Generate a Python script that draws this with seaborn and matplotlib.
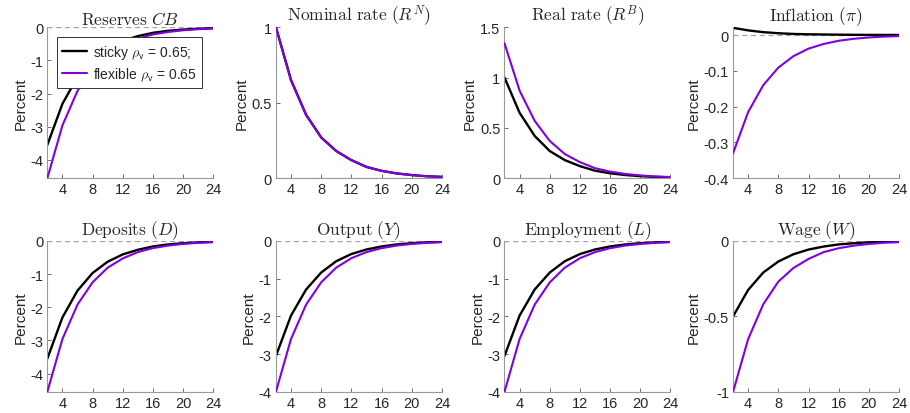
import matplotlib.pyplot as plt
import numpy as np
import pandas as pd
import seaborn as sns

# horizon (quarters after the shock)
periods = [2, 4, 6, 8, 10, 12, 14, 16, 18, 20, 22, 24]

# impulse responses, in percent
reserves_sticky = [-3.55, -2.31, -1.50, -0.97, -0.63, -0.41, -0.27, -0.17, -0.11, -0.073, -0.047, -0.031]
reserves_flex = [-4.55, -2.96, -1.92, -1.25, -0.81, -0.53, -0.34, -0.22, -0.145, -0.094, -0.061, -0.040]
nominal_sticky = [1.0, 0.65, 0.42, 0.27, 0.18, 0.12, 0.075, 0.049, 0.032, 0.021, 0.013, 0.009]
nominal_flex = [1.0, 0.65, 0.42, 0.27, 0.18, 0.12, 0.075, 0.049, 0.032, 0.021, 0.013, 0.009]
real_sticky = [1.0, 0.65, 0.42, 0.27, 0.18, 0.12, 0.075, 0.049, 0.032, 0.021, 0.013, 0.009]
real_flex = [1.34, 0.87, 0.57, 0.37, 0.24, 0.16, 0.10, 0.066, 0.043, 0.028, 0.018, 0.012]
inflation_sticky = [0.02, 0.013, 0.008, 0.005, 0.003, 0.002, 0.0015, 0.001, 0.0006, 0.0004, 0.0003, 0.0002]
inflation_flex = [-0.33, -0.215, -0.14, -0.091, -0.059, -0.038, -0.025, -0.016, -0.0105, -0.0068, -0.0044, -0.0029]
deposits_sticky = [-3.55, -2.31, -1.50, -0.97, -0.63, -0.41, -0.27, -0.17, -0.11, -0.073, -0.047, -0.031]
deposits_flex = [-4.55, -2.96, -1.92, -1.25, -0.81, -0.53, -0.34, -0.22, -0.145, -0.094, -0.061, -0.040]
output_sticky = [-3.05, -1.98, -1.29, -0.84, -0.54, -0.35, -0.23, -0.15, -0.097, -0.063, -0.041, -0.027]
output_flex = [-4.0, -2.6, -1.69, -1.10, -0.71, -0.46, -0.30, -0.195, -0.127, -0.083, -0.054, -0.035]
employment_sticky = [-3.05, -1.98, -1.29, -0.84, -0.54, -0.35, -0.23, -0.15, -0.097, -0.063, -0.041, -0.027]
employment_flex = [-4.0, -2.6, -1.69, -1.10, -0.71, -0.46, -0.30, -0.195, -0.127, -0.083, -0.054, -0.035]
wage_sticky = [-0.5, -0.325, -0.21, -0.137, -0.089, -0.058, -0.038, -0.024, -0.016, -0.010, -0.0068, -0.0044]
wage_flex = [-1.0, -0.65, -0.42, -0.27, -0.18, -0.12, -0.075, -0.049, -0.032, -0.021, -0.013, -0.009]

titles = [r'$\mathrm{Reserves}\ CB$', r'$\mathrm{Nominal\ rate}\ (R^N)$', r'$\mathrm{Real\ rate}\ (R^B)$',
          r'$\mathrm{Inflation}\ (\pi)$', r'$\mathrm{Deposits}\ (D)$', r'$\mathrm{Output}\ (Y)$',
          r'$\mathrm{Employment}\ (L)$', r'$\mathrm{Wage}\ (W)$']
sticky = [reserves_sticky, nominal_sticky, real_sticky, inflation_sticky,
          deposits_sticky, output_sticky, employment_sticky, wage_sticky]
flexible = [reserves_flex, nominal_flex, real_flex, inflation_flex,
            deposits_flex, output_flex, employment_flex, wage_flex]
yticks = [[-4, -3, -2, -1, 0], [0, 0.5, 1], [0, 0.5, 1, 1.5], [-0.4, -0.3, -0.2, -0.1, 0],
          [-4, -3, -2, -1, 0], [-4, -3, -2, -1, 0], [-4, -3, -2, -1, 0], [-1, -0.5, 0]]
ylims = [(-4.55, 0), (0, 1), (0, 1.5), (-0.4, 0.022),
         (-4.55, 0), (-4, 0), (-4, 0), (-1, 0)]
xticks = [4, 8, 12, 16, 20, 24]

labels = [r'sticky $\rho_{\mathsf{v}}$ = 0.65;', r'flexible $\rho_{\mathsf{v}}$ = 0.65']
colors = ['#000000', '#8000e0']

sns.set_style('ticks')
plt.rcParams['font.family'] = ['Liberation Sans', 'DejaVu Sans']
plt.rcParams['mathtext.fontset'] = 'cm'
plt.rcParams['xtick.direction'] = 'in'
plt.rcParams['ytick.direction'] = 'in'

fig, axes = plt.subplots(2, 4, figsize=(9.1, 4.14), dpi=100)
fig.subplots_adjust(left=0.052, right=0.988, top=0.932, bottom=0.051, wspace=0.377, hspace=0.414)

for i, ax in enumerate(axes.flatten()):
    df = pd.DataFrame({
        'period': periods * 2,
        'value': sticky[i] + flexible[i],
        'case': [labels[0]] * len(periods) + [labels[1]] * len(periods),
    })

    # zero reference line
    ax.axhline(0, color='#a0a0a0', linestyle=(0, (4, 3)), linewidth=0.9, zorder=1)

    sns.lineplot(data=df[df['case'] == labels[0]], x='period', y='value', color=colors[0],
                 linewidth=1.7, ax=ax, label=labels[0] if i == 0 else None, zorder=2)
    sns.lineplot(data=df[df['case'] == labels[1]], x='period', y='value', color=colors[1],
                 linewidth=1.5, ax=ax, label=labels[1] if i == 0 else None, zorder=3)

    ax.set_xlim(2, 24)
    ax.set_ylim(*ylims[i])
    ax.set_xticks(xticks)
    ax.set_yticks(yticks[i])
    ax.set_yticklabels([f'{t:g}' for t in yticks[i]])
    ax.set_xlabel('')
    ax.set_ylabel('Percent', fontsize=11, labelpad=2)
    ax.set_title(titles[i], fontsize=12.5, pad=2)
    ax.tick_params(labelsize=10.5, length=3, width=0.6, color='#555555', pad=3)

    for side in ['left', 'bottom']:
        ax.spines[side].set_color('#999999')
        ax.spines[side].set_linewidth(0.8)
    sns.despine(ax=ax)

    if i == 0:
        leg = ax.legend(loc='upper right', bbox_to_anchor=(0.975, 0.98), fontsize=10,
                        frameon=True, fancybox=False, handlelength=1.8, borderpad=0.4,
                        labelspacing=0.35, handletextpad=0.4)
        leg.get_frame().set_edgecolor('#333333')
        leg.get_frame().set_linewidth(0.7)
        leg.get_frame().set_alpha(1)

fig.savefig('out.png', dpi=100)
